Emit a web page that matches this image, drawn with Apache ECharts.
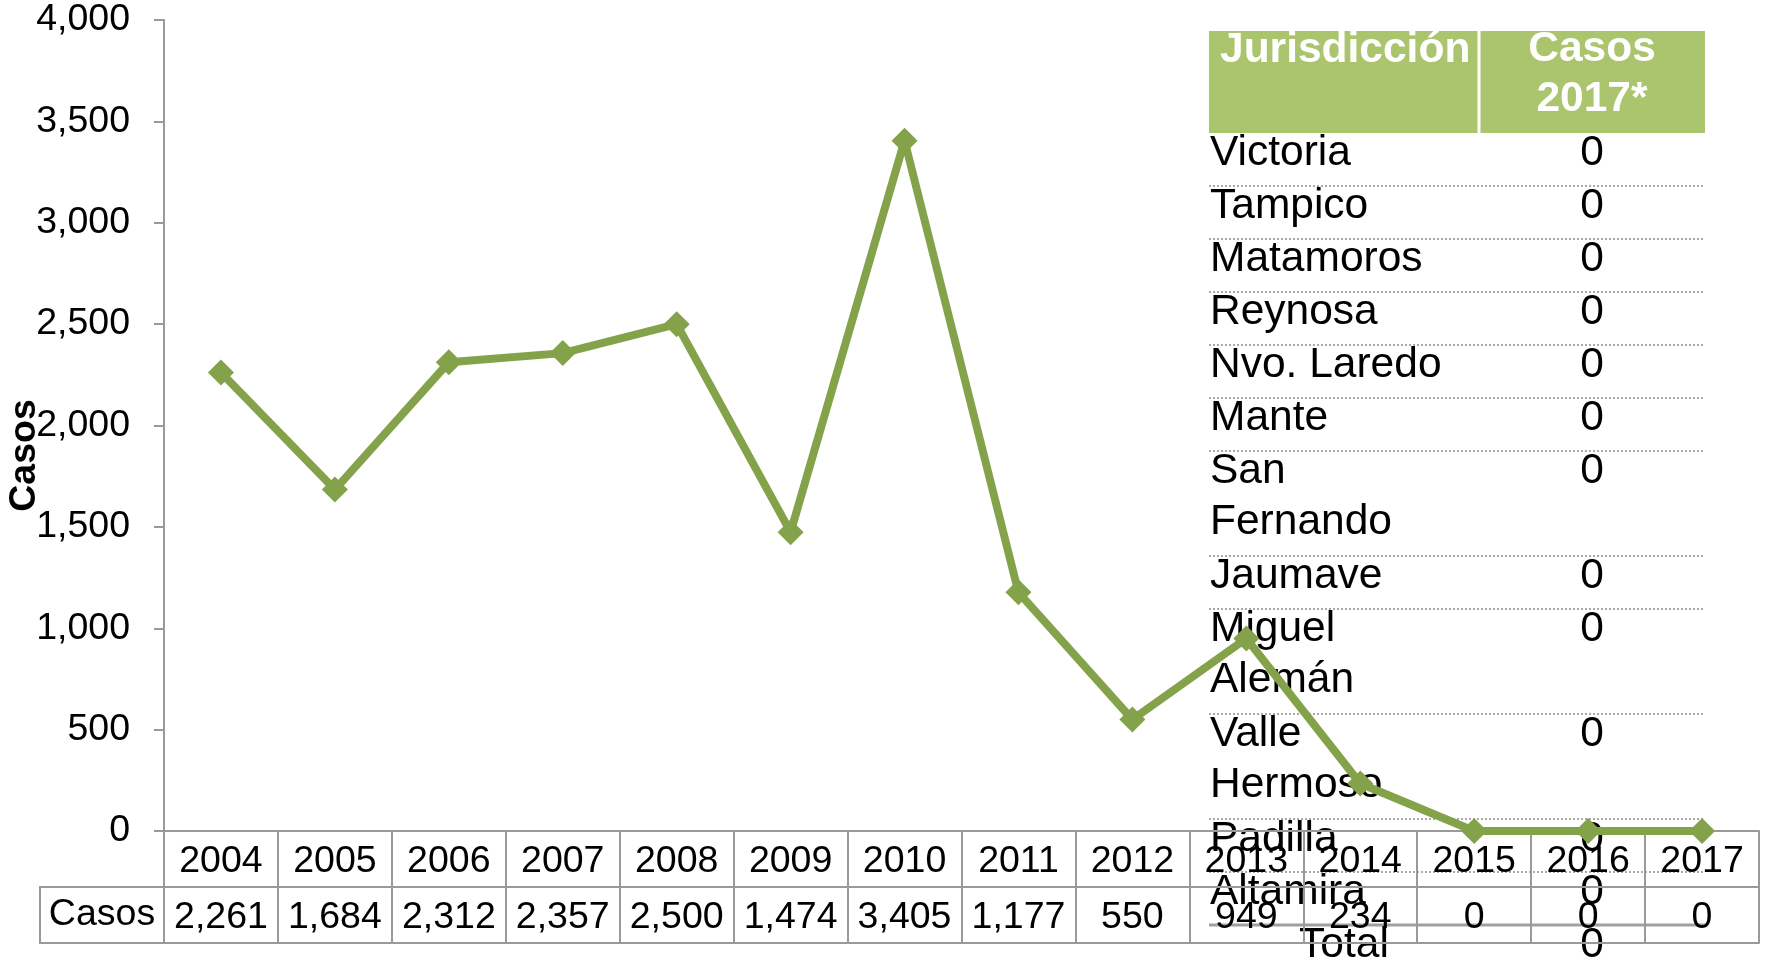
<!DOCTYPE html>
<html>
  <head>
    <meta charset="utf-8" />
    <title>Casos 2004-2017</title>
    <script src="https://cdn.jsdelivr.net/npm/echarts@6/dist/echarts.min.js"></script>
    <style>
      * {
        margin: 0;
        padding: 0;
        box-sizing: border-box;
      }
      body {
        background: #fff;
      }
    </style>
  </head>
  <body>
    <div id="main" style="width: 1768px; height: 976px"></div>
    <script type="text/javascript">
      var myChart = echarts.init(document.getElementById("main"));

      // datos de la grafica
      const anios = ["2004", "2005", "2006", "2007", "2008", "2009", "2010",
        "2011", "2012", "2013", "2014", "2015", "2016", "2017"];
      const casos = [2261, 1684, 2312, 2357, 2500, 1474, 3405, 1177, 550, 949, 234, 0, 0, 0];
      const yTicks = [0, 500, 1000, 1500, 2000, 2500, 3000, 3500, 4000];

      // tabla de jurisdicciones
      const jurisdicciones = ["Victoria", "Tampico", "Matamoros", "Reynosa", "Nvo. Laredo",
        "Mante", "San\nFernando", "Jaumave", "Miguel\nAlemán", "Valle\nHermoso",
        "Padilla", "Altamira", "Total"];
      const casos2017 = [0, 0, 0, 0, 0, 0, 0, 0, 0, 0, 0, 0, 0];

      const verde = "#84A24A";
      const verdeHeader = "#ABC56F";
      const gris = "#9a9a9a";
      const fuente = "Liberation Sans, Arial, sans-serif";
      const fs = 37.5; // tamaño de texto de la grafica
      const fsTabla = 42.5;

      const gridLeft = 164;
      const gridRight = 9;
      const gridTop = 20;
      const gridBottom = 145;
      const filaH = 56; // alto de fila de la tabla inferior
      const axisY = 976 - gridBottom;

      function fmt(n) {
        return String(n).replace(/\B(?=(\d{3})+(?!\d))/g, ",");
      }

      // tabla de la derecha (graphic)
      const tX = 1209;
      const tW = 496;
      const tDiv = 1479;
      const tTop = 31;
      const headerH = 102;
      const tabla = [];
      tabla.push({
        type: "rect",
        shape: { x: tX, y: tTop, width: tW, height: headerH },
        style: { fill: verdeHeader },
      });
      tabla.push({
        type: "line",
        shape: { x1: tDiv, y1: tTop, x2: tDiv, y2: tTop + headerH },
        style: { stroke: "#fff", lineWidth: 3 },
      });
      tabla.push({
        type: "text",
        x: tX + 11,
        y: tTop + 19,
        style: {
          text: "Jurisdicción",
          fill: "#fff",
          font: "bold " + fsTabla + "px " + fuente,
          verticalAlign: "middle",
        },
      });
      tabla.push({
        type: "text",
        x: (tDiv + tX + tW) / 2,
        y: tTop + 43,
        style: {
          text: "Casos\n2017*",
          fill: "#fff",
          font: "bold " + fsTabla + "px " + fuente,
          lineHeight: 50,
          align: "center",
          verticalAlign: "middle",
        },
      });
      let rowTop = tTop + headerH;
      jurisdicciones.forEach(function (nombre, i) {
        const lineas = nombre.split("\n").length;
        const h = 53 + 52 * (lineas - 1);
        const esTotal = nombre === "Total";
        tabla.push({
          type: "text",
          x: esTotal ? (tX + tDiv) / 2 : tX + 1,
          y: rowTop - 5,
          style: {
            text: nombre,
            fill: "#000",
            font: fsTabla + "px " + fuente,
            lineHeight: 51,
            align: esTotal ? "center" : "left",
            verticalAlign: "top",
          },
        });
        tabla.push({
          type: "text",
          x: (tDiv + tX + tW) / 2,
          y: rowTop - 5,
          style: {
            text: String(casos2017[i]),
            fill: "#000",
            font: fsTabla + "px " + fuente,
            lineHeight: 51,
            align: "center",
            verticalAlign: "top",
          },
        });
        rowTop += h;
        if (i < jurisdicciones.length - 1) {
          const sigTotal = jurisdicciones[i + 1] === "Total";
          tabla.push({
            type: "line",
            shape: { x1: tX, y1: rowTop, x2: tX + tW, y2: rowTop },
            style: sigTotal
              ? { stroke: "#a0a0a0", lineWidth: 3 }
              : { stroke: "#aaaaaa", lineWidth: 2, lineDash: [2, 2] },
          });
        }
      });

      // celda "Casos" de la tabla inferior
      const celdaCasos = [
        {
          type: "rect",
          shape: { x: 40, y: axisY + filaH, width: gridLeft - 40, height: filaH },
          style: { fill: "none", stroke: gris, lineWidth: 2 },
        },
        {
          type: "text",
          x: (40 + gridLeft) / 2,
          y: axisY + filaH * 1.5,
          style: {
            text: "Casos",
            fill: "#000",
            font: fs + "px " + fuente,
            align: "center",
            verticalAlign: "middle",
          },
        },
      ];

      const ejeExtra = function (offset) {
        return {
          type: "category",
          data: anios,
          position: "bottom",
          offset: offset,
          axisLine: { show: true, lineStyle: { color: gris, width: 2 } },
          axisTick: { show: false },
          axisLabel: { show: false },
        };
      };

      var option = {
        animation: false,
        textStyle: { fontFamily: fuente },
        grid: {
          left: gridLeft,
          right: gridRight,
          top: gridTop,
          bottom: gridBottom,
          containLabel: false,
          outerBoundsMode: "none",
        },
        xAxis: [
          {
            type: "category",
            data: anios,
            boundaryGap: true,
            axisLine: { show: true, lineStyle: { color: gris, width: 2 } },
            axisTick: {
              show: true,
              inside: false,
              length: filaH * 2,
              lineStyle: { color: gris, width: 2 },
            },
            axisLabel: {
              interval: 0,
              margin: 3,
              formatter: function (v, i) {
                return "{y|" + v + "}\n{v|" + fmt(casos[i]) + "}";
              },
              rich: {
                y: { fontSize: fs, lineHeight: filaH, color: "#000", fontFamily: fuente },
                v: { fontSize: fs, lineHeight: filaH, color: "#000", fontFamily: fuente },
              },
            },
          },
          ejeExtra(filaH),
          ejeExtra(filaH * 2),
        ],
        yAxis: {
          type: "value",
          min: yTicks[0],
          max: yTicks[yTicks.length - 1],
          interval: yTicks[1] - yTicks[0],
          name: "Casos",
          nameLocation: "middle",
          nameRotate: 90,
          nameGap: 120,
          nameMoveOverlap: false,
          nameTextStyle: {
            fontSize: fs,
            fontWeight: "bold",
            color: "#000",
            fontFamily: fuente,
            padding: [0, 60, 0, 0],
          },
          axisLine: { show: true, lineStyle: { color: gris, width: 2 } },
          axisTick: { show: true, length: 10, lineStyle: { color: gris, width: 2 } },
          axisLabel: {
            margin: 34,
            fontSize: fs,
            color: "#000",
            fontFamily: fuente,
            formatter: function (v) {
              return fmt(v);
            },
          },
          splitLine: { show: false },
        },
        series: [
          {
            name: "Casos",
            type: "line",
            data: casos,
            symbol: "diamond",
            symbolSize: 26,
            lineStyle: { color: verde, width: 8 },
            itemStyle: { color: verde },
            z: 3,
          },
        ],
        graphic: [
          { type: "group", z: 100, children: celdaCasos },
          { type: "group", z: 100, children: tabla },
        ],
      };

      myChart.setOption(option);
    </script>
  </body>
</html>
